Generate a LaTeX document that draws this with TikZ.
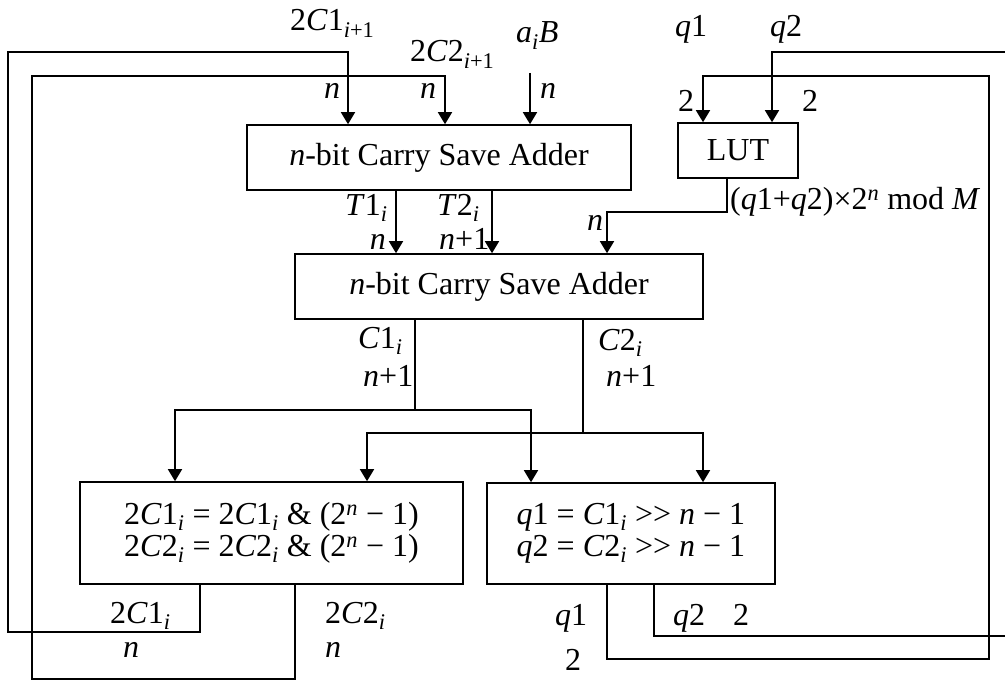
\documentclass[tikz,border=0pt]{standalone}
\usepackage{fontspec}
\setmainfont{Liberation Serif}
\usepackage{amsmath}
\usetikzlibrary{arrows.meta}

\tikzset{
  blk/.style={draw, line width=1.6pt, inner sep=0pt, align=center},
  wire/.style={line width=1.6pt},
  arr/.style={wire, -{Triangle[length=12pt,width=14pt]}},
  lbl/.style={inner sep=0pt, anchor=base west},
}
\newcommand{\vr}[1]{\textit{#1}}
\newcommand{\sbs}[1]{\textsubscript{#1}}
\newcommand{\shr}{\mbox{>}\mbox{>}}

\begin{document}
\begin{tikzpicture}[x=1pt, y=-1pt, font=\fontsize{32}{32}\selectfont]
\useasboundingbox (0,0) rectangle (1005,682);

% blocks
\node[blk, minimum width=384pt, minimum height=65pt] (csaA) at (439,157.5) {\vr{n}-bit Carry Save Adder};
\node[blk, minimum width=120pt, minimum height=55pt] (lut) at (738,150.5) {LUT};
\node[blk, minimum width=408pt, minimum height=65pt] (csaB) at (499,286.5) {\vr{n}-bit Carry Save Adder};
\node[blk, minimum width=383pt, minimum height=102pt] (maskbox) at (271.5,533)
  {2\vr{C}1\sbs{\vr{i}} = 2\vr{C}1\sbs{\vr{i}} \& (2\textsuperscript{\vr{n}} − 1)\\
   2\vr{C}2\sbs{\vr{i}} = 2\vr{C}2\sbs{\vr{i}} \& (2\textsuperscript{\vr{n}} − 1)};
\node[blk, minimum width=288pt, minimum height=101pt] (shiftbox) at (631,533.5)
  {\vr{q}1 = \vr{C}1\sbs{\vr{i}} \shr\ \vr{n} − 1\\
   \vr{q}2 = \vr{C}2\sbs{\vr{i}} \shr\ \vr{n} − 1};

\coordinate (aiB) at (530,73);
\coordinate (qin) at (1005,52);
\coordinate (qout) at (1005,636);
\coordinate (splitA) at (415,410);
\coordinate (splitB) at (583,433);

% feedback into the first adder
\draw[arr] (maskbox.south -| 200,0) -- (200,632) -- (8,632) -- (8,52) -- (348,52) -- (348,0 |- csaA.north);
\draw[arr] (maskbox.south -| 295,0) -- (295,679) -- (32,679) -- (32,76) -- (445,76) -- (445,0 |- csaA.north);
\draw[arr] (aiB) -- (aiB |- csaA.north);

% q1, q2 into the LUT
\draw[arr] (shiftbox.south -| 607,0) -- (607,659) -- (989,659) -- (989,76) -- (703,76) -- (703,0 |- lut.north);
\draw[wire] (shiftbox.south -| 654,0) -- (654,636) -- (qout);
\draw[arr] (qin) -- (772,52) -- (772,0 |- lut.north);

% into the second adder
\draw[arr] (lut.south -| 727,0) -- (727,212) -- (607,212) -- (607,0 |- csaB.north);
\draw[arr] (csaA.south -| 396,0) -- (396,0 |- csaB.north);
\draw[arr] (csaA.south -| 492,0) -- (492,0 |- csaB.north);

% outputs of the second adder
\draw[wire] (csaB.south -| splitA) -- (splitA);
\draw[arr] (splitA) -| (maskbox.north -| 175,0);
\draw[arr] (splitA) -| (shiftbox.north -| 531,0);
\draw[wire] (csaB.south -| splitB) -- (splitB);
\draw[arr] (splitB) -| (maskbox.north -| 367,0);
\draw[arr] (splitB) -| (shiftbox.north -| 703,0);

% labels
\node[lbl] (l2c1in) at (290,31) {2\vr{C}1\sbs{\vr{i}+1}};
\node[lbl] (l2c2in) at (410,62) {2\vr{C}2\sbs{\vr{i}+1}};
\node[lbl] (laib) at (516,43) {\vr{a}\sbs{\vr{i}}\vr{B}};
\node[lbl] (lna) at (324,99) {\vr{n}};
\node[lbl] (lnb) at (420,99) {\vr{n}};
\node[lbl] (lnc) at (540,99) {\vr{n}};
\node[lbl] (lq1in) at (675,37) {\vr{q}1};
\node[lbl] (lq2in) at (770,37) {\vr{q}2};
\node[lbl] (ltwoa) at (678,112) {2};
\node[lbl] (ltwob) at (802,112) {2};
\node[lbl] (llut) at (730,210) {(\vr{q}1+\vr{q}2)×2\textsuperscript{\vr{n}} mod \vr{M}};
\node[lbl] (lnd) at (587,230) {\vr{n}};
\node[lbl] (lt1) at (345,215) {\vr{T}1\sbs{\vr{i}}};
\node[lbl, anchor=base east] (lne) at (386,249) {\vr{n}};
\node[lbl] (lt2) at (437,215) {\vr{T}2\sbs{\vr{i}}};
\node[lbl] (lnf) at (439,249) {\vr{n}+1};
\node[lbl] (lc1) at (358,348) {\vr{C}1\sbs{\vr{i}}};
\node[lbl] (lng) at (363,386) {\vr{n}+1};
\node[lbl] (lc2) at (598,350) {\vr{C}2\sbs{\vr{i}}};
\node[lbl] (lnh) at (606,386) {\vr{n}+1};
\node[lbl] (l2c1out) at (110,623) {2\vr{C}1\sbs{\vr{i}}};
\node[lbl] (lni) at (123,657) {\vr{n}};
\node[lbl] (l2c2out) at (325,623) {2\vr{C}2\sbs{\vr{i}}};
\node[lbl] (lnj) at (325,657) {\vr{n}};
\node[lbl] (lq1out) at (555,625) {\vr{q}1};
\node[lbl] (ltwoc) at (565,670) {2};
\node[lbl] (lq2out) at (673,625) {\vr{q}2};
\node[lbl] (ltwod) at (733,625) {2};
\end{tikzpicture}
\end{document}
